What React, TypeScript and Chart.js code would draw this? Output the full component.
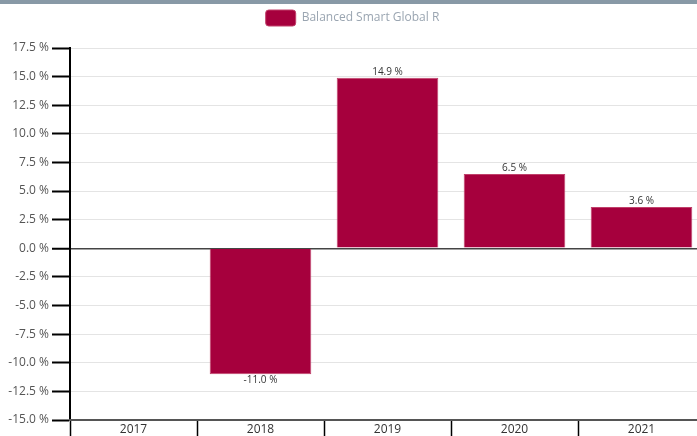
import React, { useEffect, useRef } from "react";
import { Chart, registerables } from "chart.js";

Chart.register(...registerables);

const categories = ["2017", "2018", "2019", "2020", "2021"];
const seriesName = "Balanced Smart Global R";
const values: (number | null)[] = [null, -11.0, 14.9, 6.5, 3.6];
const yTicks = [17.5, 15, 12.5, 10, 7.5, 5, 2.5, 0, -2.5, -5, -7.5, -10, -12.5, -15];

const BAR = "#a6003d";
const FONT = "'Open Sans', 'Noto Sans', sans-serif";

const labelPlugin = {
  id: "valueLabels",
  afterDatasetsDraw(chart: any) {
    const ctx = chart.ctx;
    const meta = chart.getDatasetMeta(0);
    ctx.save();
    ctx.font = `10px ${FONT}`;
    ctx.fillStyle = "#333";
    ctx.textAlign = "center";
    meta.data.forEach((bar: any, i: number) => {
      const v = values[i];
      if (v === null || v === undefined) return;
      const txt = v.toFixed(1) + " %";
      if (v >= 0) {
        ctx.textBaseline = "bottom";
        ctx.fillText(txt, bar.x, bar.y - 1);
      } else {
        ctx.textBaseline = "top";
        ctx.fillText(txt, bar.x, bar.y + 1);
      }
    });
    ctx.restore();
  },
};

const legendMargin = {
  id: "legendMargin",
  beforeInit(chart: any) {
    const orig = chart.legend.fit;
    chart.legend.fit = function () {
      orig.bind(chart.legend)();
      this.height += 12;
    };
  },
};

export default function App() {
  const ref = useRef<HTMLCanvasElement>(null);
  useEffect(() => {
    document.body.style.margin = "0";
    const chart = new Chart(ref.current!, {
      type: "bar",
      data: {
        labels: categories,
        datasets: [
          {
            label: seriesName,
            data: values,
            backgroundColor: BAR,
            borderColor: "#c0406a",
            borderWidth: 1,
            barPercentage: 0.8,
            categoryPercentage: 1,
          },
        ],
      },
      plugins: [labelPlugin, legendMargin],
      options: {
        animation: false,
        responsive: false,
        maintainAspectRatio: false,
        layout: { padding: { left: 0, right: 0, top: 0, bottom: 0 } },
        plugins: {
          legend: {
            display: true,
            position: "top",
            labels: {
              boxWidth: 30,
              boxHeight: 16,
              useBorderRadius: true,
              borderRadius: 3,
              padding: 6,
              color: "#9aa5b1",
              font: { family: FONT, size: 12 },
            },
          },
          tooltip: { enabled: false },
        },
        scales: {
          y: {
            min: -15,
            max: 17.5,
            afterBuildTicks(scale: any) {
              scale.ticks = yTicks.map((v) => ({ value: v }));
            },
            afterFit(scale: any) {
              scale.width = 70;
            },
            ticks: {
              color: "#555",
              font: { family: FONT, size: 12 },
              padding: 3,
              callback: (v: any) => Number(v).toFixed(1) + " %",
            },
            grid: {
              color: (c: any) => (c.tick && c.tick.value === 0 ? "#444" : "#e4e4e4"),
              lineWidth: (c: any) => (c.tick && c.tick.value === 0 ? 1.5 : 1),
              tickColor: "#000",
              tickLength: 18,
              tickWidth: 2,
            },
            border: { color: "#000", width: 2 },
          },
          x: {
            afterFit(scale: any) {
              scale.height = 16;
            },
            ticks: {
              color: "#333",
              font: { family: FONT, size: 12 },
              padding: -14,
            },
            grid: {
              offset: true,
              drawOnChartArea: false,
              tickColor: "#000",
              tickLength: 16,
              tickWidth: 1.5,
            },
            border: { color: "#555", width: 2 },
          },
        },
      },
    });
    return () => chart.destroy();
  }, []);
  return (
    <div style={{ width: 697, height: 436, overflow: "hidden", borderTop: "4px solid #8899a6", boxSizing: "border-box" }}>
      <canvas ref={ref} width={705} height={432} style={{ display: "block" }} />
    </div>
  );
}
